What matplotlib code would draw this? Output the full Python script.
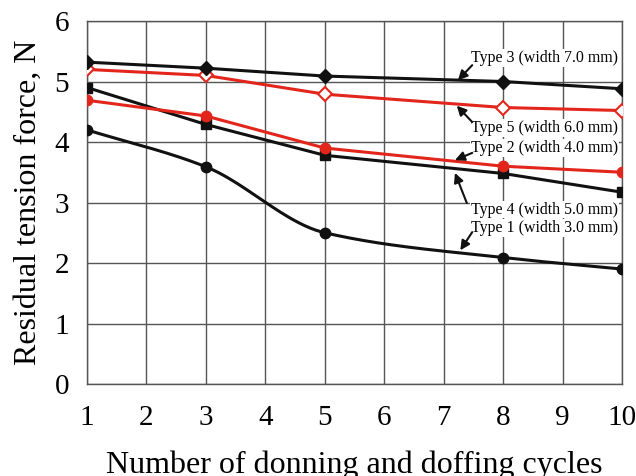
import numpy as np
import matplotlib as mpl

mpl.use("Agg")
import matplotlib.pyplot as plt

cycles = [1, 3, 5, 8, 10]
type1 = [4.20, 3.59, 2.50, 2.09, 1.90]
type2 = [4.69, 4.43, 3.90, 3.60, 3.50]
type3 = [5.32, 5.22, 5.09, 5.00, 4.88]
type4 = [4.90, 4.29, 3.78, 3.48, 3.17]
type5 = [5.20, 5.10, 4.79, 4.57, 4.52]

x_ticks = list(range(1, 11))
y_ticks = list(range(0, 7))

RED = "#e3261c"
INK = "#111111"
GRID = "#555555"

mpl.rcParams.update({
    "font.family": ["Liberation Serif", "DejaVu Serif"],
})


def pchip(x, y, n=200):
    """Shape-preserving cubic through the points (for the smoothed Type 1 curve)."""
    x = np.asarray(x, float)
    y = np.asarray(y, float)
    h = np.diff(x)
    d = np.diff(y) / h
    m = np.zeros_like(y)
    for k in range(1, len(x) - 1):
        if d[k - 1] * d[k] > 0:
            w1 = 2 * h[k] + h[k - 1]
            w2 = h[k] + 2 * h[k - 1]
            m[k] = (w1 + w2) / (w1 / d[k - 1] + w2 / d[k])
    m[0] = d[0]
    m[-1] = d[-1]
    xs = np.linspace(x[0], x[-1], n)
    idx = np.clip(np.searchsorted(x, xs) - 1, 0, len(x) - 2)
    t = (xs - x[idx]) / h[idx]
    h00 = 2 * t**3 - 3 * t**2 + 1
    h10 = t**3 - 2 * t**2 + t
    h01 = -2 * t**3 + 3 * t**2
    h11 = t**3 - t**2
    ys = h00 * y[idx] + h10 * h[idx] * m[idx] + h01 * y[idx + 1] + h11 * h[idx] * m[idx + 1]
    return xs, ys


fig = plt.figure(figsize=(6.36, 4.76), dpi=100)
ax = fig.add_axes([87 / 636, 1 - 384 / 476, (622 - 87) / 636, (384 - 21) / 476])

ax.set_xlim(1, 10)
ax.set_ylim(0, 6)
ax.set_xticks(x_ticks)
ax.set_yticks(y_ticks)
ax.grid(True, color=GRID, linewidth=1.0)
ax.set_axisbelow(True)
for s in ax.spines.values():
    s.set_color(GRID)
    s.set_linewidth(1.0)
ax.tick_params(length=0, labelsize=21)
ax.tick_params(axis="x", pad=15)
ax.tick_params(axis="y", pad=13)

lw, ms = 2.2, 7.5
xs, ys = pchip(cycles, type1)
ax.plot(xs, ys, color=INK, lw=lw, zorder=3)
ax.plot(cycles, type1, "o", color=INK, ms=ms, zorder=4)
ax.plot(cycles, type4, "-s", color=INK, lw=lw, ms=ms, zorder=3)
ax.plot(cycles, type2, "-o", color=RED, lw=lw, ms=ms, zorder=3)
ax.plot(cycles, type5, "-D", color=RED, lw=lw, ms=7, mfc="white", mec=RED, mew=1.5, zorder=3)
ax.plot(cycles, type3, "-D", color=INK, lw=lw, ms=7, zorder=3)

labels = [
    ("Type 3 (width 7.0 mm)", 5.39, (7.48, 5.27), (7.24, 5.02)),
    ("Type 5 (width 6.0 mm)", 4.23, (7.48, 4.33), (7.22, 4.60)),
    ("Type 2 (width 4.0 mm)", 3.90, (7.48, 3.82), (7.19, 3.70)),
    ("Type 4 (width 5.0 mm)", 2.88, (7.39, 2.99), (7.19, 3.49)),
    ("Type 1 (width 3.0 mm)", 2.58, (7.48, 2.51), (7.28, 2.21)),
]
for text, ty, tail, head in labels:
    ax.text(7.46, ty, text, fontsize=11.4, ha="left", va="center", zorder=5,
            bbox=dict(facecolor="white", edgecolor="none", pad=0.5))
    ax.annotate("", xy=head, xytext=tail, zorder=6,
                arrowprops=dict(arrowstyle="-|>", color=INK, lw=1.5,
                                mutation_scale=14, shrinkA=0, shrinkB=0))

ax.set_xlabel("Number of donning and doffing cycles", fontsize=23, labelpad=14)
ax.set_ylabel("Residual tension force, N", fontsize=23, labelpad=8)

fig.savefig("out.png", dpi=100)
